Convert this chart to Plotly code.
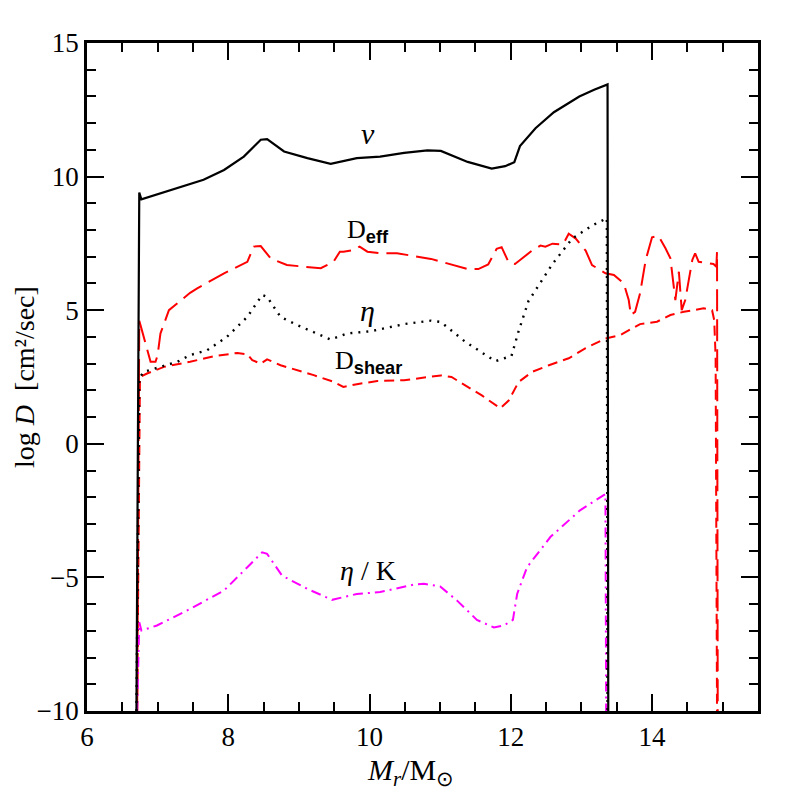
import plotly.graph_objects as go

# ---- data ----
nu_x = [6.70, 6.74, 6.77, 7.28, 7.65, 7.94, 8.22, 8.46, 8.55, 8.79, 9.12, 9.45, 9.82, 10.15, 10.49, 10.82,
        11.01, 11.39, 11.73, 11.92, 12.05, 12.13, 12.35, 12.61, 12.97, 13.18, 13.35, 13.37, 13.38]
nu_y = [-10, 9.40, 9.15, 9.57, 9.88, 10.25, 10.75, 11.38, 11.40, 10.94, 10.69, 10.48, 10.69, 10.75, 10.89, 10.98,
        10.96, 10.55, 10.30, 10.39, 10.54, 11.14, 11.81, 12.41, 13.00, 13.25, 13.41, 13.45, -10]

eta_x = [6.70, 6.74, 6.80, 7.04, 7.28, 7.46, 7.70, 7.98, 8.27, 8.48, 8.55, 8.74, 8.98, 9.45, 9.68, 10.01,
         10.49, 10.87, 11.01, 11.35, 11.78, 12.01, 12.11, 12.25, 12.59, 12.87, 13.16, 13.35, 13.36, 13.37]
eta_y = [-10, 2.45, 2.69, 2.88, 3.07, 3.32, 3.50, 4.00, 4.75, 5.57, 5.50, 4.75, 4.44, 3.90, 4.13, 4.21,
         4.48, 4.61, 4.56, 3.83, 3.09, 3.29, 4.21, 5.34, 6.73, 7.68, 8.18, 8.43, 8.45, -10]

dshear_x = [6.71, 6.75, 6.85, 7.09, 7.46, 7.80, 8.13, 8.27, 8.34, 8.46, 8.55, 8.74, 9.21, 9.49, 9.63, 9.82,
            10.11, 10.49, 11.01, 11.16, 11.59, 11.85, 11.97, 12.11, 12.30, 12.54, 12.82, 13.06, 13.34, 13.55,
            13.83, 14.07, 14.26, 14.45, 14.73, 14.85, 14.88, 14.90, 14.92]
dshear_y = [-10, 2.50, 2.63, 2.88, 3.07, 3.28, 3.40, 3.35, 3.13, 3.00, 3.16, 2.94, 2.57, 2.32, 2.13, 2.23,
            2.35, 2.38, 2.56, 2.50, 1.81, 1.33, 1.62, 2.31, 2.69, 2.94, 3.20, 3.58, 3.94, 4.07,
            4.48, 4.57, 4.82, 4.94, 5.07, 5.00, 4.63, 3.25, -10]

deff_x = [6.71, 6.74, 6.77, 6.86, 6.90, 6.97, 7.00, 7.04, 7.16, 7.46, 7.56, 7.94, 8.27, 8.36, 8.46, 8.60,
          8.83, 9.31, 9.49, 9.58, 9.63, 9.78, 9.86, 9.97, 10.15, 10.39, 10.87, 11.39, 11.54, 11.68, 11.80,
          11.87, 11.97, 12.06, 12.30, 12.42, 12.49, 12.59, 12.74, 12.82, 12.92, 13.06, 13.15, 13.34, 13.46,
          13.60, 13.67, 13.70, 13.76, 13.83, 13.91, 14.00, 14.09, 14.19, 14.26, 14.33, 14.38, 14.42, 14.47,
          14.57, 14.61, 14.66, 14.87, 14.91, 14.92, 14.93]
deff_y = [-10, 4.60, 4.32, 3.38, 3.07, 3.07, 3.32, 4.13, 5.00, 5.65, 5.82, 6.38, 6.81, 7.38, 7.40, 6.94,
          6.69, 6.57, 6.81, 7.19, 7.19, 7.25, 7.38, 7.19, 7.13, 7.13, 6.92, 6.54, 6.54, 6.71, 7.30,
          7.36, 6.79, 6.73, 7.23, 7.42, 7.38, 7.49, 7.46, 7.86, 7.68, 7.23, 6.69, 6.38, 6.32,
          6.00, 5.38, 4.82, 4.94, 5.63, 6.88, 7.73, 7.78, 7.32, 6.94, 5.38, 6.44, 5.00, 5.38,
          6.88, 7.13, 6.81, 6.73, 6.63, 7.19, -10]

etak_x = [6.71, 6.74, 6.77, 6.99, 7.46, 7.94, 8.27, 8.48, 8.55, 8.76, 9.12, 9.47, 9.82, 10.15, 10.63, 10.77,
          11.00, 11.24, 11.52, 11.76, 11.90, 12.03, 12.09, 12.23, 12.56, 12.98, 13.31, 13.34, 13.35]
etak_y = [-10, -6.68, -6.99, -6.80, -6.18, -5.49, -4.62, -4.06, -4.12, -4.93, -5.43, -5.84, -5.62, -5.55, -5.27, -5.24,
          -5.34, -5.87, -6.59, -6.87, -6.80, -6.59, -5.62, -4.62, -3.49, -2.49, -1.93, -1.88, -10]

x_ticks = [6, 8, 10, 12, 14]
y_ticks = [-10, -5, 0, 5, 10, 15]

label_text = ["<i>ν</i>",
              "D<sub><b><span style='font-family:Liberation Sans'>eff</span></b></sub>",
              "<i>η</i>",
              "D<sub><b><span style='font-family:Liberation Sans'>shear</span></b></sub>",
              "<i>η</i> / K"]
label_x = [9.98, 9.98, 9.97, 9.99, 9.98]
label_y = [11.6, 7.95, 5.0, 3.05, -4.75]
label_size = [30, 26, 30, 26, 28]

SERIF = "Liberation Serif"

fig = go.Figure()
fig.add_trace(go.Scatter(x=deff_x, y=deff_y, mode="lines",
                         line=dict(color="#ff0000", width=2, dash="22px,8px")))
fig.add_trace(go.Scatter(x=dshear_x, y=dshear_y, mode="lines",
                         line=dict(color="#ff0000", width=2, dash="10px,6px")))
fig.add_trace(go.Scatter(x=etak_x, y=etak_y, mode="lines",
                         line=dict(color="#ff00ff", width=2, dash="10px,5px,2px,5px")))
fig.add_trace(go.Scatter(x=eta_x, y=eta_y, mode="lines",
                         line=dict(color="black", width=2.4, dash="2px,6px")))
fig.add_trace(go.Scatter(x=nu_x, y=nu_y, mode="lines",
                         line=dict(color="black", width=2.2)))

for t, x, y, s in zip(label_text, label_x, label_y, label_size):
    fig.add_annotation(x=x, y=y, text=t, showarrow=False, xanchor="center", yanchor="middle",
                       font=dict(family=SERIF, size=s, color="black"))

# axis titles
fig.add_annotation(xref="paper", yref="paper", x=-0.094, y=0.5, textangle=-90,
                   text="log <i>D</i>  [cm²/sec]", showarrow=False,
                   xanchor="center", yanchor="middle",
                   font=dict(family=SERIF, size=28, color="black"))
fig.add_annotation(xref="paper", yref="paper", x=0.482, y=-0.0914,
                   text="<i>M<sub>r</sub></i>/M<sub>⊙</sub>", showarrow=False,
                   xanchor="center", yanchor="middle",
                   font=dict(family=SERIF, size=30, color="black"))

axis_common = dict(showgrid=False, zeroline=False, showline=True, linecolor="black", linewidth=2.5,
                   mirror="allticks", ticks="inside", ticklen=17, tickwidth=2, tickcolor="black",
                   tickfont=dict(family=SERIF, size=27, color="black"))

fig.update_xaxes(range=[6, 15.5], tickvals=x_ticks, ticktext=[str(v) for v in x_ticks],
                 minor=dict(dtick=0.5, tick0=6, ticks="inside", ticklen=9, tickwidth=1.5, tickcolor="black"),
                 **axis_common)
fig.update_yaxes(range=[-10, 15], tickvals=y_ticks, ticktext=[("−" + str(-v)) if v < 0 else str(v) for v in y_ticks],
                 minor=dict(dtick=1, tick0=0, ticks="inside", ticklen=9, tickwidth=1.5, tickcolor="black"),
                 **axis_common)

# page body has an 8px margin: figure is shifted by (8, 8) on screen
fig.update_layout(width=789, height=789, showlegend=False,
                  plot_bgcolor="white", paper_bgcolor="white",
                  margin=dict(l=78.5, r=39, t=35.3, b=86))

fig.write_html("out.html")
